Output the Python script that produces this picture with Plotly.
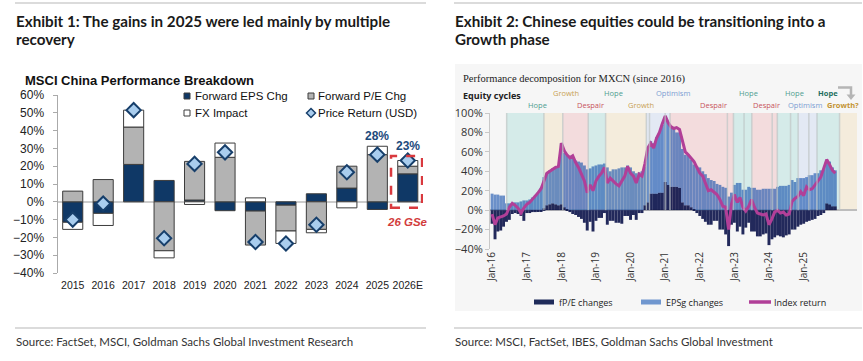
import plotly.graph_objects as go
import pandas as pd

W, H = 863, 361

# ---------------- Exhibit 1 data ----------------
years = ["2015", "2016", "2017", "2018", "2019", "2020", "2021", "2022", "2023", "2024", "2025", "2026E"]
fwd_eps_chg = [-11.5, -6.5, 21.0, 12.0, 1.0, -5.0, -5.2, -1.9, 4.5, 7.7, -4.3, 15.7]
fwd_pe_chg = [6.0, 12.5, 21.0, -27.5, 21.7, 25.0, -19.1, -14.5, -15.5, 12.3, 26.5, 4.3]
fx_impact = [-4.0, -6.8, 9.5, -4.0, -1.5, 8.0, 2.2, -7.0, -1.9, -3.4, 4.7, 3.2]
price_return = [-10.0, -1.0, 51.5, -20.5, 21.3, 27.8, -22.6, -23.4, -12.9, 16.6, 26.5, 23.2]
callout_years = ["2025", "2026E"]
callout_text = ["28%", "23%"]
estimate_text = "26 GSe"

# ---------------- Exhibit 2 data (monthly, Jan-16 .. Dec-25) ----------------
months = pd.date_range("2016-01-01", periods=120, freq="MS")
fpe_changes = [
    -14, -30, -22, -21, -17, -12, -10, -4, -3, -4, -6, -11,
    -3, -3, -2, -2, -1, -1, 2, 5, 6, 7, 6, 5,
    6, 3, 1, -2, -4, -5, -7, -9, -13, -21, -12, -22,
    -11, -8, -8, -3, -15, -11, -11, -13, -13, -14, -6, -6,
    -10, -5, -10, -3, -3, 5, 8, 17, 17, 17, 18, 18,
    29, 26, 24, 24, 24, 23, 8, 5, 5, 3, 1, -3,
    -6, -9, -12, -15, -15, -11, -11, -20, -20, -25, -37, -15,
    -13, -22, -17, -25, -18, -13, -22, -22, -27, -27, -25, -24,
    -36, -30, -28, -26, -27, -28, -26, -25, -20, -20, -17, -15,
    -14, -12, -11, -10, -9, -6, -5, -3, 7, 6, 4, 4,
]
epsg_changes = [
    17, 16, 16, 15, 15, 7, 7, 7, 8, 8, 9, 10,
    10, 11, 13, 15, 18, 23, 32, 33, 35, 36, 38, 40,
    63, 56, 55, 56, 54, 51, 50, 49, 46, 42, 43, 45,
    46, 47, 47, 48, 44, 40, 42, 42, 43, 44, 44, 46,
    44, 40, 38, 39, 40, 40, 54, 54, 52, 58, 62, 70,
    66, 64, 62, 61, 56, 57, 55, 52, 52, 49, 46, 45,
    44, 40, 37, 33, 31, 30, 27, 26, 24, 23, 14, 18,
    26, 28, 28, 21, 21, 24, 23, 23, 21, 21, 22, 22,
    22, 22, 22, 24, 25, 25, 25, 26, 31, 29, 33, 33,
    33, 34, 36, 36, 38, 38, 41, 42, 45, 44, 40, 37,
]
index_return = [
    -4, -15, -8, -7, -6, -4, 3, 7, 5, 2, -3, 2,
    6, 8, 11, 14, 18, 22, 30, 38, 40, 42, 44, 45,
    69, 61, 57, 54, 56, 49, 44, 37, 30, 18, 26, 20,
    30, 35, 38, 44, 28, 33, 30, 27, 25, 30, 35, 45,
    38, 35, 28, 37, 35, 48, 64, 69, 64, 74, 80, 89,
    97, 90, 86, 84, 85, 83, 73, 60, 57, 53, 50, 44,
    38, 35, 28, 20, 21, 18, 16, 11, 4, 3, -20, 6,
    16, 8, 13, 3, -1, 4, 11, 3, -3, -4, -5, -4,
    -15, -9, -2, 0, -3, -2, -5, -4, 9, 12, 14, 19,
    15, 24, 21, 22, 26, 31, 34, 43, 52, 47, 41, 38,
]
tick_dates = ["2016-01-01", "2017-01-01", "2018-01-01", "2019-01-01", "2020-01-01",
              "2021-01-01", "2022-01-01", "2023-01-01", "2024-01-01", "2025-01-01"]
tick_text = ["Jan-16", "Jan-17", "Jan-18", "Jan-19", "Jan-20",
             "Jan-21", "Jan-22", "Jan-23", "Jan-24", "Jan-25"]
cycle_bands = [
    ("2016-06-03", "2017-07-01", "Hope"),
    ("2017-07-01", "2018-01-16", "Growth"),
    ("2018-01-16", "2018-10-12", "Despair"),
    ("2018-10-12", "2019-04-13", "Hope"),
    ("2019-04-13", "2020-06-16", "Growth"),
    ("2020-06-16", "2020-07-19", "Optimism"),
    ("2020-07-19", "2021-01-01", "Optimism"),
    ("2021-01-01", "2021-02-21", "Optimism"),
    ("2021-02-21", "2022-10-19", "Despair"),
    ("2022-10-19", "2022-12-22", "Despair"),
    ("2022-12-22", "2023-04-13", "Hope"),
    ("2023-04-13", "2023-07-04", "Hope"),
    ("2023-07-04", "2024-02-04", "Despair"),
    ("2024-02-04", "2024-03-29", "Despair"),
    ("2024-03-29", "2024-08-16", "Hope"),
    ("2024-08-16", "2024-11-04", "Hope"),
    ("2024-11-04", "2025-02-25", "Optimism"),
    ("2025-02-25", "2025-05-22", "Optimism"),
    ("2025-05-22", "2026-01-15", "Hope"),
    ("2026-01-15", "2026-07-18", "Growth?"),
]
cycle_labels_upper = [("2018-02-18", "Growth"), ("2019-07-07", "Hope"), ("2021-03-19", "Optimism"),
                      ("2023-05-25", "Hope"), ("2024-09-22", "Hope"), ("2025-09-13", "Hope*")]
cycle_labels_lower = [("2017-04-22", "Hope"), ("2018-11-01", "Despair"), ("2020-04-22", "Growth"),
                      ("2022-05-25", "Despair"), ("2023-12-10", "Despair"), ("2025-01-13", "Optimism"),
                      ("2026-02-19", "Growth?")]

# ---------------- styling ----------------
NAVY1 = "#0f3866"
GRAY1 = "#b3b3b3"
EDGE1 = "#3c3c3c"
DIA_FILL = "#a9cdee"
DIA_EDGE = "#173f6b"
NAVY2_BASE = "rgb(0, 8, 66)"
BLUE2_BASE = "rgb(0, 66, 166)"
NAVY2 = "#1f2b5a"
BLUE2 = "#7097cf"
MAG2 = "#b13f98"
band_fill = {"Hope": "#d5ebe9", "Growth": "#f4ecdc", "Despair": "#f3dcdd",
             "Optimism": "#e3e9f4", "Growth?": "#f4ecdc"}
label_color = {"Hope": "#4f9e91", "Growth": "#c9a255", "Despair": "#c8545c", "Optimism": "#7b9dd2",
               "Growth?": "#c39332", "Hope*": "#1f6e5f"}

ARIAL = "Liberation Sans, Arial, sans-serif"
HUM = "Lato, Open Sans, sans-serif"
OPEN = "Open Sans, sans-serif"


def PX(x):
    return x / W


def PY(y):
    return 1 - y / H


fig = go.Figure()

# Exhibit 1 traces
fig.add_trace(go.Bar(x=years, y=fwd_eps_chg, name="Forward EPS Chg", xaxis="x", yaxis="y",
                     marker=dict(color=NAVY1, line=dict(color=EDGE1, width=1))))
fig.add_trace(go.Bar(x=years, y=fwd_pe_chg, name="Forward P/E Chg", xaxis="x", yaxis="y",
                     marker=dict(color=GRAY1, line=dict(color=EDGE1, width=1))))
fig.add_trace(go.Bar(x=years, y=fx_impact, name="FX Impact", xaxis="x", yaxis="y",
                     marker=dict(color="#ffffff", line=dict(color=EDGE1, width=1))))
fig.add_trace(go.Scatter(x=years, y=price_return, name="Price Return (USD)", mode="markers",
                         xaxis="x", yaxis="y",
                         marker=dict(symbol="diamond", size=11, color=DIA_FILL,
                                     line=dict(color=DIA_EDGE, width=2))))

# Exhibit 2 traces
bar_w = 31 * 86400000
fig.add_trace(go.Bar(x=months, y=fpe_changes, name="fP/E changes", xaxis="x2", yaxis="y2",
                     width=bar_w, opacity=0.86, marker=dict(color=NAVY2_BASE, line=dict(width=0))))
fig.add_trace(go.Bar(x=months, y=epsg_changes, name="EPSg changes", xaxis="x2", yaxis="y2",
                     width=bar_w, opacity=0.56, marker=dict(color=BLUE2_BASE, line=dict(width=0))))
fig.add_trace(go.Scatter(x=months, y=index_return, name="Index return", mode="lines",
                         xaxis="x2", yaxis="y2", line=dict(color=MAG2, width=3)))

shapes = []
annotations = []

# rules and panel
for x0, x1 in [(15, 426), (454, 862)]:
    for yy in [3, 328]:
        shapes.append(dict(type="line", xref="paper", yref="paper", x0=PX(x0), x1=PX(x1),
                           y0=PY(yy), y1=PY(yy), line=dict(color="#cfcfcf", width=1.5), layer="below"))
shapes.append(dict(type="rect", xref="paper", yref="paper", x0=PX(455), x1=PX(862), y0=PY(311), y1=PY(64),
                   fillcolor="#f6f6f6", line=dict(width=0), layer="below"))

# cycle bands (behind the bars) and separators
for s, e, ph in cycle_bands:
    shapes.append(dict(type="rect", xref="x2", yref="y2", x0=s, x1=e, y0=0, y1=100,
                       fillcolor=band_fill[ph], line=dict(width=0), layer="below"))
for s, e, ph in cycle_bands:
    shapes.append(dict(type="line", xref="x2", yref="y2", x0=s, x1=s, y0=0, y1=100,
                       line=dict(color="rgba(190,196,196,0.7)", width=1.5), layer="above"))

# Exhibit 1 estimate box
shapes.append(dict(type="rect", xref="x", yref="y", x0=10.45, x1=11.47, y0=-3.4, y1=25.8,
                   line=dict(color="#d9393e", width=2.5, dash="dash"), fillcolor="rgba(0,0,0,0)",
                   layer="above"))

# Exhibit 1 legend (manual)
def sq(x, y, fill):
    shapes.append(dict(type="rect", xref="paper", yref="paper", x0=PX(x), x1=PX(x + 6), y0=PY(y + 3),
                       y1=PY(y - 3), fillcolor=fill, line=dict(color=EDGE1, width=1), layer="below"))

sq(184, 96, NAVY1)
sq(308, 96, GRAY1)
sq(184, 113, "#ffffff")
cx, cy = 311, 113
shapes.append(dict(type="path", xref="paper", yref="paper",
                   path=f"M {PX(cx)},{PY(cy-4.5)} L {PX(cx+4.5)},{PY(cy)} L {PX(cx)},{PY(cy+4.5)} L {PX(cx-4.5)},{PY(cy)} Z",
                   fillcolor=DIA_FILL, line=dict(color=DIA_EDGE, width=1.5), layer="below"))
for tx, ty, t in [(193, 96, "Forward EPS Chg"), (316, 96, "Forward P/E Chg"),
                  (193, 113, "FX Impact"), (316, 113, "Price Return (USD)")]:
    annotations.append(dict(xref="paper", yref="paper", x=PX(tx), y=PY(ty), text=t, showarrow=False,
                            xanchor="left", yanchor="middle", font=dict(family=ARIAL, size=11.5, color="#111")))

# Exhibit 2 legend (manual)
shapes.append(dict(type="rect", xref="paper", yref="paper", x0=PX(534), x1=PX(554), y0=PY(304.5), y1=PY(299.5),
                   fillcolor=NAVY2, line=dict(width=0), layer="below"))
shapes.append(dict(type="rect", xref="paper", yref="paper", x0=PX(641), x1=PX(661), y0=PY(304.5), y1=PY(299.5),
                   fillcolor=BLUE2, line=dict(width=0), layer="below"))
shapes.append(dict(type="line", xref="paper", yref="paper", x0=PX(749), x1=PX(771), y0=PY(302), y1=PY(302),
                   line=dict(color=MAG2, width=3.5), layer="below"))
for tx, t in [(557, "fP/E changes"), (664, "EPSg changes"), (772, "Index return")]:
    annotations.append(dict(xref="paper", yref="paper", x=PX(tx), y=PY(302), text=t, showarrow=False,
                            xanchor="left", yanchor="middle", font=dict(family=OPEN, size=9, color="#222")))

# arrow Hope -> Growth?
shapes.append(dict(type="path", xref="paper", yref="paper",
                   path=f"M {PX(838)},{PY(87.5)} L {PX(851)},{PY(87.5)} L {PX(851)},{PY(95)}",
                   line=dict(color="#b5b5b5", width=2.5), layer="below"))
shapes.append(dict(type="path", xref="paper", yref="paper",
                   path=f"M {PX(846.5)},{PY(94.5)} L {PX(855.5)},{PY(94.5)} L {PX(851)},{PY(100)} Z",
                   fillcolor="#b5b5b5", line=dict(width=0), layer="below"))

# titles
def title(x, y, t, size=15.2):
    annotations.append(dict(xref="paper", yref="paper", x=PX(x), y=PY(y), text=f"<b>{t}</b>", showarrow=False,
                            xanchor="left", yanchor="middle", font=dict(family=HUM, size=size, color="#1a1a1a")))

title(14, 21.5, "Exhibit 1: The gains in 2025 were led mainly by multiple")
title(14, 39.5, "recovery")
title(453, 21, "Exhibit 2: Chinese equities could be transitioning into a")
title(453, 39, "Growth phase")
for x, t in [(14, "Source: FactSet, MSCI, Goldman Sachs Global Investment Research"),
             (453, "Source: MSCI, FactSet, IBES, Goldman Sachs Global Investment")]:
    annotations.append(dict(xref="paper", yref="paper", x=PX(x), y=PY(341), text=t, showarrow=False,
                            xanchor="left", yanchor="middle", font=dict(family=HUM, size=11.5, color="#333")))

annotations.append(dict(xref="paper", yref="paper", x=PX(23), y=PY(80), text="<b>MSCI China Performance Breakdown</b>",
                        showarrow=False, xanchor="left", yanchor="middle",
                        font=dict(family=ARIAL, size=13, color="#111")))
annotations.append(dict(xref="paper", yref="paper", x=PX(461), y=PY(79),
                        text="Performance decomposition for MXCN (since 2016)", showarrow=False,
                        xanchor="left", yanchor="middle",
                        font=dict(family="Liberation Serif, serif", size=10.5, color="#222")))
annotations.append(dict(xref="paper", yref="paper", x=PX(461), y=PY(95.5), text="<b>Equity cycles</b>",
                        showarrow=False, xanchor="left", yanchor="middle",
                        font=dict(family=OPEN, size=9, color="#222")))

for rows, yy in [(cycle_labels_upper, 92.5), (cycle_labels_lower, 104.5)]:
    for d, lab in rows:
        txt = lab.replace("*", "")
        bold = lab in ("Hope*", "Growth?")
        annotations.append(dict(xref="x2", yref="paper", x=d, y=PY(yy),
                                text=f"<b>{txt}</b>" if bold else txt, showarrow=False,
                                xanchor="center", yanchor="middle",
                                font=dict(family=OPEN, size=7.5, color=label_color[lab])))

# callouts on exhibit 1
for yr, t in zip(callout_years, callout_text):
    i = years.index(yr)
    top = sum(v for v in (fwd_eps_chg[i], fwd_pe_chg[i], fx_impact[i]) if v > 0)
    annotations.append(dict(xref="x", yref="y", x=i, y=top, text=f"<b>{t}</b>", showarrow=False,
                            xanchor="center", yanchor="bottom", yshift=1 if yr == "2025" else 5,
                            font=dict(family=ARIAL, size=12, color="#1c4a7c")))
annotations.append(dict(xref="x", yref="y", x=years.index("2026E"), y=-11.3,
                        text=f"<b><i>{estimate_text}</i></b>",
                        showarrow=False, xanchor="center", yanchor="middle",
                        font=dict(family=ARIAL, size=11.5, color="#d23c3c")))

fig.update_layout(
    width=W, height=H, margin=dict(l=0, r=0, t=0, b=0, autoexpand=False),
    paper_bgcolor="white", plot_bgcolor="white",
    barmode="relative", bargap=0.34, showlegend=False,
    shapes=shapes, annotations=annotations,
    xaxis=dict(domain=[PX(57.5), PX(423)], anchor="y", type="category", range=[-0.5, 11.5],
               showline=False, ticks="", showgrid=False, zeroline=False, automargin=False,
               tickfont=dict(family=ARIAL, size=10.5, color="#222"), ticklabelstandoff=4),
    yaxis=dict(domain=[PY(273), PY(95)], anchor="x", range=[-40, 60], dtick=10, ticksuffix="%",
               showline=True, linecolor="#aaaaaa", linewidth=1, ticks="outside", ticklen=4,
               tickcolor="#aaaaaa", showgrid=False, zeroline=True, zerolinecolor="#cccccc",
               zerolinewidth=2, automargin=False, ticklabelstandoff=6,
               tickfont=dict(family=ARIAL, size=12, color="#222")),
    xaxis2=dict(domain=[PX(490), PX(857)], anchor="y2", type="date",
                range=["2015-12-10", "2026-07-18"], tickvals=tick_dates, ticktext=tick_text,
                tickangle=-90, showline=False, ticks="", showgrid=False, zeroline=False,
                automargin=False, tickfont=dict(family=OPEN, size=10, color="#333")),
    yaxis2=dict(domain=[PY(249), PY(113)], anchor="x2", range=[-40, 100], dtick=20, ticksuffix="%",
                showline=True, linecolor="#c8c8c8", linewidth=1, ticks="outside", ticklen=4,
                tickcolor="#c8c8c8", showgrid=False, zeroline=True, zerolinecolor="#bdbdbd",
                zerolinewidth=1.5, automargin=False, tickfont=dict(family=OPEN, size=11, color="#333")),
)

fig.write_html("out.html", config={"displayModeBar": False},
               post_script="document.body.style.margin='0';document.body.style.overflow='hidden';")
